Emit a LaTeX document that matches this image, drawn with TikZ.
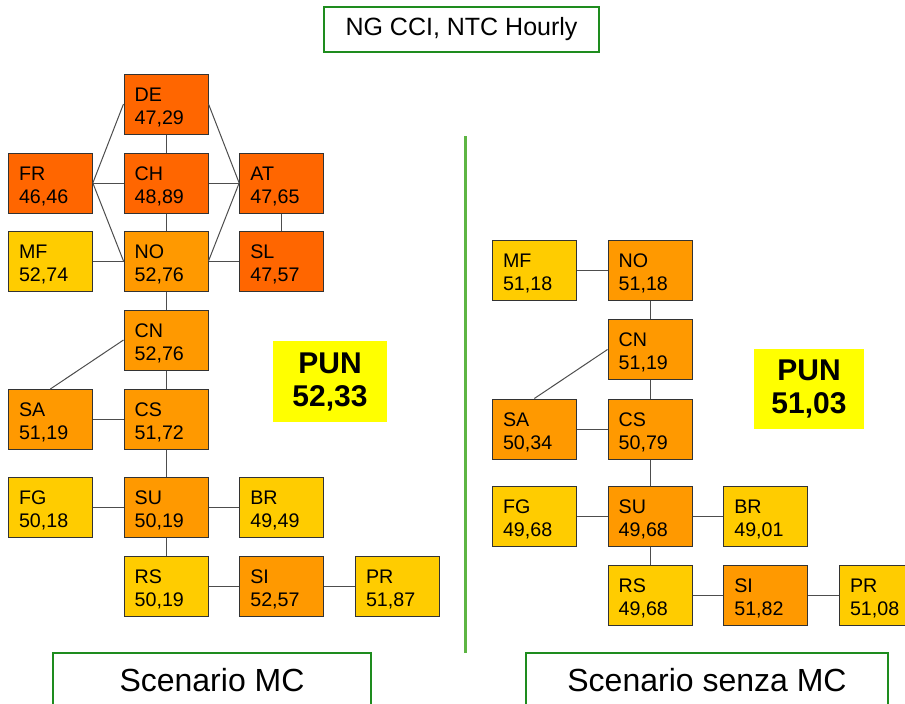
\documentclass[tikz,border=0pt]{standalone}
\usepackage{fontspec}
\setmainfont{Liberation Sans}
\usepackage{xcolor}
\usetikzlibrary{positioning}

\begin{document}
\begin{tikzpicture}[
    x=0.75pt, y=-0.75pt,
    every node/.style={font=\fontsize{14.75}{17.25}\selectfont},
    zone/.style={
        draw=boxLine, line width=0.75pt, minimum height=45pt,
        text width=47pt, inner xsep=8pt, align=left,
        execute at begin node={\rule{0pt}{15pt}}
    },
    hi/.style={zone, fill=cHigh},
    mid/.style={zone, fill=cMid},
    low/.style={zone, fill=cLow},
    link/.style={draw=linkGray, line width=0.75pt},
    pun/.style={fill=cPun, align=center,
        font=\bfseries\fontsize{22.5}{24.75}\selectfont},
    tag/.style={draw=cFrame, line width=1.5pt, fill=white, align=center},
    node distance=23pt
]
\definecolor{cHigh}{HTML}{FF6600}
\definecolor{cMid}{HTML}{FF9900}
\definecolor{cLow}{HTML}{FFCC00}
\definecolor{cPun}{HTML}{FFFF00}
\definecolor{boxLine}{HTML}{333333}
\definecolor{linkGray}{HTML}{4D4D4D}
\definecolor{cFrame}{HTML}{1E8C1E}
\definecolor{cSep}{HTML}{5DB543}

\useasboundingbox (0,0) rectangle (905,703);

% Title
\node[tag, minimum width=206.25pt, minimum height=33.75pt,
      font=\fontsize{18.75}{22}\selectfont] (title) at (461.5,29.5)
    {NG CCI, NTC Hourly};

% Scenario MC
\begin{scope}
  \node[hi] (mcDE) at (166,104) {DE\\47,29};
  \node[hi] (mcCH) at (166,183) {CH\\48,89};
  \node[mid] (mcNO) at (166,261) {NO\\52,76};
  \node[mid] (mcCN) at (166,340) {CN\\52,76};
  \node[mid] (mcCS) at (166,419.5) {CS\\51,72};
  \node[mid] (mcSU) at (166,507) {SU\\50,19};
  \node[low] (mcRS) at (166,586) {RS\\50,19};
  \node[hi, left=of mcCH] (mcFR) {FR\\46,46};
  \node[low, left=of mcNO] (mcMF) {MF\\52,74};
  \node[hi, right=of mcCH] (mcAT) {AT\\47,65};
  \node[hi, right=of mcNO] (mcSL) {SL\\47,57};
  \node[mid, left=of mcCS] (mcSA) {SA\\51,19};
  \node[low, left=of mcSU] (mcFG) {FG\\50,18};
  \node[low, right=of mcSU] (mcBR) {BR\\49,49};
  \node[mid, right=of mcRS] (mcSI) {SI\\52,57};
  \node[low, right=of mcSI] (mcPR) {PR\\51,87};

  \node[pun, minimum width=85.5pt, minimum height=60.75pt] (mcPUN)
      at (330,381.5) {PUN\\52,33};

  \draw[link] (mcFR.east) -- (mcDE.west);
  \draw[link] (mcFR) -- (mcCH);
  \draw[link] (mcFR.east) -- (mcNO.west);
  \draw[link] (mcDE) -- (mcCH);
  \draw[link] (mcCH) -- (mcNO);
  \draw[link] (mcDE.east) -- (mcAT.west);
  \draw[link] (mcCH) -- (mcAT);
  \draw[link] (mcNO.east) -- (mcAT.west);
  \draw[link] (mcNO) -- (mcSL);
  \draw[link] (mcAT) -- (mcSL);
  \draw[link] (mcMF) -- (mcNO);
  \draw[link] (mcNO) -- (mcCN);
  \draw[link] (mcCN.west) -- (mcSA.north);
  \draw[link] (mcCN) -- (mcCS);
  \draw[link] (mcSA) -- (mcCS);
  \draw[link] (mcCS) -- (mcSU);
  \draw[link] (mcFG) -- (mcSU);
  \draw[link] (mcSU) -- (mcBR);
  \draw[link] (mcSU) -- (mcRS);
  \draw[link] (mcRS) -- (mcSI);
  \draw[link] (mcSI) -- (mcPR);
\end{scope}

% Scenario senza MC
\begin{scope}[shift={(484,9.5)}]
  \node[mid] (smNO) at (166,261) {NO\\51,18};
  \node[mid] (smCN) at (166,340) {CN\\51,19};
  \node[mid] (smCS) at (166,419.5) {CS\\50,79};
  \node[mid] (smSU) at (166,507) {SU\\49,68};
  \node[low] (smRS) at (166,586) {RS\\49,68};
  \node[low, left=of smNO] (smMF) {MF\\51,18};
  \node[mid, left=of smCS] (smSA) {SA\\50,34};
  \node[low, left=of smSU] (smFG) {FG\\49,68};
  \node[low, right=of smSU] (smBR) {BR\\49,01};
  \node[mid, right=of smRS] (smSI) {SI\\51,82};
  \node[low, right=of smSI] (smPR) {PR\\51,08};

  \node[pun, minimum width=82.5pt, minimum height=60pt] (smPUN)
      at (325,379.5) {PUN\\51,03};

  \draw[link] (smMF) -- (smNO);
  \draw[link] (smNO) -- (smCN);
  \draw[link] (smCN.west) -- (smSA.north);
  \draw[link] (smCN) -- (smCS);
  \draw[link] (smSA) -- (smCS);
  \draw[link] (smCS) -- (smSU);
  \draw[link] (smFG) -- (smSU);
  \draw[link] (smSU) -- (smBR);
  \draw[link] (smSU) -- (smRS);
  \draw[link] (smRS) -- (smSI);
  \draw[link] (smSI) -- (smPR);
\end{scope}

% Separator
\coordinate (sepTop) at (465,136);
\coordinate (sepBot) at (465,653);
\draw[draw=cSep, line width=2.25pt] (sepTop) -- (sepBot);

% Captions
\node[tag, minimum width=238.5pt, minimum height=40.5pt,
      font=\fontsize{24}{28}\selectfont] (capMC) at (212,680)
    {Scenario MC};
\node[tag, minimum width=271.5pt, minimum height=40.5pt,
      font=\fontsize{24}{28}\selectfont] (capSenza) at (707,680)
    {Scenario senza MC};

\end{tikzpicture}
\end{document}
